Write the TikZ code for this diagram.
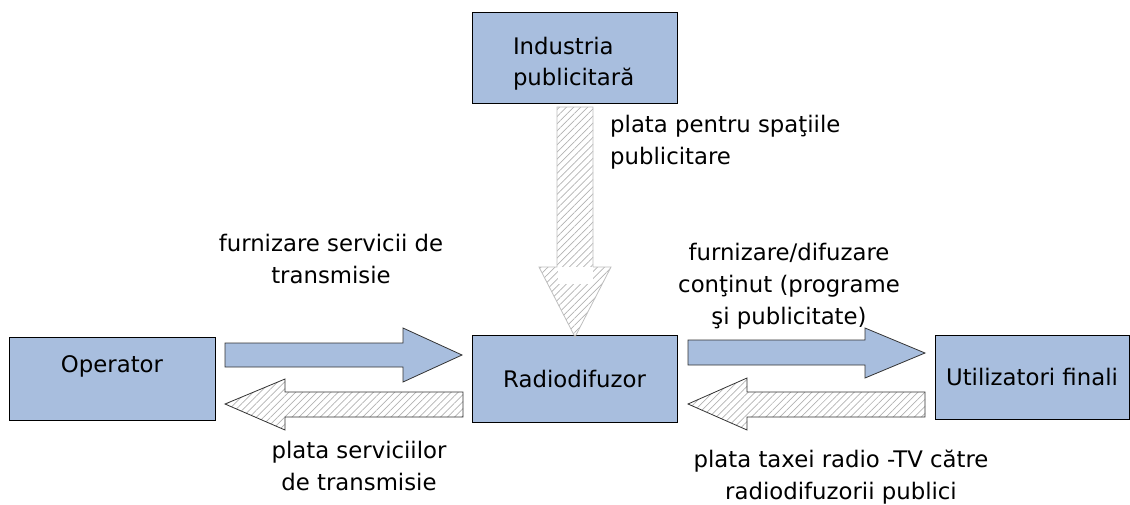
\documentclass[tikz,border=0pt]{standalone}
\usepackage{fontspec}
\setmainfont{DejaVu Sans}
\usetikzlibrary{patterns.meta}
\definecolor{boxblue}{RGB}{168,190,222}
\tikzset{
  actor/.style={draw=black, line width=1pt, fill=boxblue, inner sep=0pt,
    font=\fontsize{22.8}{31}\selectfont, align=center},
  flowtext/.style={font=\fontsize{22.8}{32}\selectfont, inner sep=0pt},
  servarrow/.style={draw=black!80, line width=0.8pt, fill=boxblue},
  payarrow/.style={draw=black!80, line width=0.8pt,
    pattern={Lines[angle=45, distance=5pt, line width=0.7pt]}, pattern color=gray!60}
}
\begin{document}
\begin{tikzpicture}[x=1pt, y=-1pt]
    \useasboundingbox (0,0) rectangle (1130,504);
    % boxes
    \node[actor, minimum width=205, minimum height=91, text width=123pt, align=left, text depth=24pt] (Ind) at (574.5,57.5) {Industria\\publicitară};
    \node[actor, minimum width=206, minimum height=83, text depth=28pt] (Op) at (112,378.5) {Operator};
    \node[actor, minimum width=205, minimum height=87] (Rad) at (574.5,378.5) {Radiodifuzor};
    \node[actor, minimum width=194, minimum height=84] (Uti) at (1032,377) {Utilizatori finali};
    % payment from the advertising industry
    \draw[payarrow, draw=gray!50] (557,107) -- (593,107) -- (593,267) -- (611,267) -- (575,337)
        -- (539,267) -- (557,267) -- cycle;
    \fill[white] (557.5,267) rectangle (592.5,284);
    % operator <-> broadcaster
    \draw[servarrow] (225,343) -- (403,343) -- (403,328) -- (462,355) -- (403,382) -- (403,367) -- (225,367) -- cycle;
    \draw[payarrow] (463,392) -- (285,392) -- (285,379) -- (225,404) -- (285,430) -- (285,417) -- (463,417) -- cycle;
    % broadcaster <-> end users
    \draw[servarrow] (688,340) -- (865,340) -- (865,328) -- (925,353) -- (865,378) -- (865,365) -- (688,365) -- cycle;
    \draw[payarrow] (925,392) -- (747,392) -- (747,378) -- (688,404) -- (747,430) -- (747,417) -- (925,417) -- cycle;
    % labels
    \node[flowtext, align=left, anchor=west] (AdPay) at (610,142) {plata pentru spaţiile\\publicitare};
    \node[flowtext, align=center] (Serv) at (331,259) {furnizare servicii de\\transmisie};
    \node[flowtext, align=center] (Cont) at (789,286) {furnizare/difuzare\\conţinut (programe\\şi publicitate)};
    \node[flowtext, align=center] (ServPay) at (359,466) {plata serviciilor\\de transmisie};
    \node[flowtext, align=center] (Tax) at (841,477) {plata taxei radio -TV către\\radiodifuzorii publici};
\end{tikzpicture}
\end{document}
